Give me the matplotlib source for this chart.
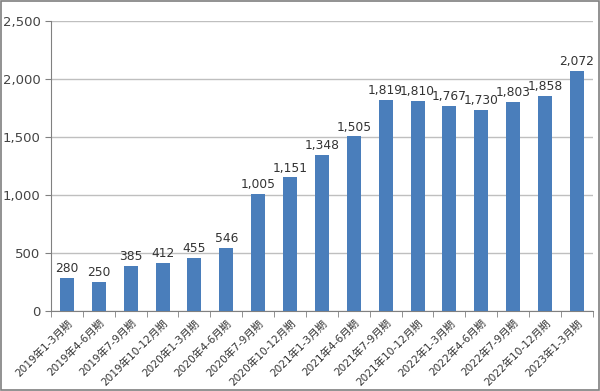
import matplotlib
matplotlib.use("Agg")
import matplotlib.pyplot as plt
import numpy as np

plt.rcParams['font.family'] = ['DejaVu Sans', 'Noto Sans CJK JP']

categories = ["2019年1-3月期", "2019年4-6月期", "2019年7-9月期", "2019年10-12月期",
              "2020年1-3月期", "2020年4-6月期", "2020年7-9月期", "2020年10-12月期",
              "2021年1-3月期", "2021年4-6月期", "2021年7-9月期", "2021年10-12月期",
              "2022年1-3月期", "2022年4-6月期", "2022年7-9月期", "2022年10-12月期",
              "2023年1-3月期"]
values = [280, 250, 385, 412, 455, 546, 1005, 1151, 1348, 1505, 1819, 1810,
          1767, 1730, 1803, 1858, 2072]
yticks = [0, 500, 1000, 1500, 2000, 2500]

fig = plt.figure(figsize=(6, 3.91), dpi=100)
ax = fig.add_axes([0.085, 0.205, 0.903, 0.741])
x = np.arange(len(categories))
bars = ax.bar(x, values, width=0.44, color='#4A7EBB', zorder=3)
for xi, v in zip(x, values):
    ax.text(xi, v + 25, f"{v:,}", ha='center', va='bottom', fontsize=8.8, color='#333333')

ax.set_xlim(-0.5, len(categories) - 0.5)
ax.set_ylim(0, 2500)
ax.set_yticks(yticks)
ax.set_yticklabels([f"{t:,}" for t in yticks], fontsize=9.5, color='#444444')
ax.yaxis.grid(True, color='#BFBFBF', linewidth=1, zorder=0)
ax.set_xticks(x)
ax.set_xticklabels(categories, rotation=45, ha='right', rotation_mode='anchor', fontsize=7.6, color='#333333')
ax.tick_params(axis='x', length=0, pad=5)
ax.set_xticks(np.arange(-0.5, len(categories), 1), minor=True)
ax.tick_params(axis='x', which='minor', length=4, color='#808080', direction='out')
ax.tick_params(axis='y', length=4, color='#808080', direction='out')
for s in ['top', 'right']:
    ax.spines[s].set_visible(False)
ax.spines['left'].set_color('#808080')
ax.spines['bottom'].set_color('#808080')

fig.patches.append(plt.Rectangle((0.002, 0.002), 0.996, 0.996, transform=fig.transFigure,
                                 fill=False, edgecolor='#7F7F7F', linewidth=1.2))
fig.savefig("out.png", dpi=100)
